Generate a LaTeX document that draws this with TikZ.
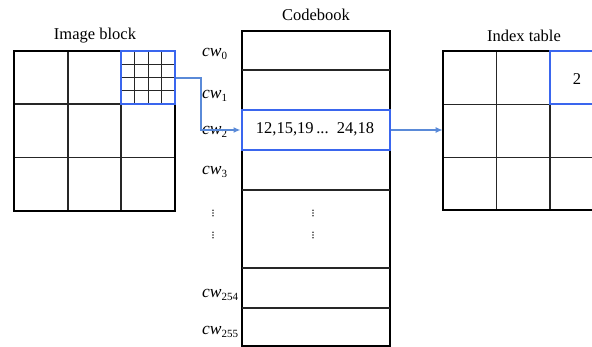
\documentclass[tikz,border=0pt]{standalone}
\usepackage{fontspec}
\setmainfont{Liberation Serif}
\usetikzlibrary{arrows.meta}
\definecolor{boxblue}{HTML}{3A66EE}
\definecolor{linkblue}{HTML}{5A8AD8}
\begin{document}
\begin{tikzpicture}[x=1pt,y=-1pt,
  grid/.style={draw=black!85,line width=1.3pt},
  frame/.style={draw=black,line width=2pt},
  selbox/.style={draw=boxblue,line width=2pt},
  link/.style={draw=linkblue,line width=1.3pt,-{Latex[length=7pt,width=6pt]}},
  title/.style={font=\fontsize{16.5}{19}\selectfont,inner sep=0pt},
  cwlabel/.style={anchor=base west,inner sep=0pt,font=\fontsize{17.5}{20}\selectfont\itshape},
  entry/.style={font=\fontsize{16.5}{19}\selectfont,inner sep=0pt},
  vdots/.style={fill=black!80,circle,inner sep=0pt,minimum size=1.8pt}
]
\useasboundingbox (0,0) rectangle (592,347);

% ---------- image block: 3x3 grid with a 4x4 subdivided corner ----------
\node[title] (ibt) at (95,36) {Image block};
\draw[grid] (68,51) -- (68,211) (121,51) -- (121,211)
            (14,104) -- (175,104) (14,157.5) -- (175,157.5);
\draw[frame] (14,51) rectangle (175,211);
\foreach \k in {1,2,3} {
  \draw[grid,line width=1pt] ({121+\k*13.5},51) -- ({121+\k*13.5},104);
  \draw[grid,line width=1pt] (121,{51+\k*13.25}) -- (175,{51+\k*13.25});
}
\node[selbox,minimum width=54pt,minimum height=53pt,inner sep=0pt] (sub) at (148,77.5) {};

% ---------- codebook ----------
\node[title] (cbt) at (316,15) {Codebook};
\draw[frame] (241.5,31) rectangle (389.5,346);
\foreach \yy in {70,110,150,190,268,308}
  \draw[grid,line width=1.6pt] (241.5,\yy) -- (389.5,\yy);
\node[selbox,minimum width=148pt,minimum height=40pt,inner sep=0pt] (cw2row) at (315.5,130) {};
\node[entry] (vec) at (315,129) {12,15,19\,...\ \ 24,18};

% codeword labels
\node[cwlabel] (l0) at (202,57) {cw\raisebox{-0.35ex}{\upshape\fontsize{11}{12}\selectfont 0}};
\node[cwlabel] (l1) at (202,99) {cw\raisebox{-0.35ex}{\upshape\fontsize{11}{12}\selectfont 1}};
\node[cwlabel] (l2) at (202,135) {cw\raisebox{-0.35ex}{\upshape\fontsize{11}{12}\selectfont 2}};
\node[cwlabel] (l3) at (202,175) {cw\raisebox{-0.35ex}{\upshape\fontsize{11}{12}\selectfont 3}};
\node[cwlabel] (l254) at (202,298) {cw\raisebox{-0.35ex}{\upshape\fontsize{11}{12}\selectfont 254}};
\node[cwlabel] (l255) at (202,335) {cw\raisebox{-0.35ex}{\upshape\fontsize{11}{12}\selectfont 255}};

% vertical ellipses
\foreach \xx in {213,313} \foreach \yy in {213,235}
  \foreach \d in {-2.8,0,2.8} \node[vdots] at (\xx,\yy+\d) {};

% ---------- index table ----------
\node[title] (itt) at (524,36) {Index table};
\draw[grid] (496.5,51) -- (496.5,210) (550,51) -- (550,210)
            (442.7,104.5) -- (604,104.5) (442.7,157.5) -- (604,157.5);
\draw[frame] (442.7,51) rectangle (604,210);
\node[selbox,minimum width=54pt,minimum height=53.5pt,inner sep=0pt] (cell) at (577,77.75) {};
\node[entry] (idx) at (577,79) {2};

% ---------- connectors ----------
\coordinate (bend) at (201,78);
\draw[link] (sub.east |- bend) -- (bend) |- (cw2row.west);
\draw[link] (cw2row.east) -- (442.7,130);
\end{tikzpicture}
\end{document}
